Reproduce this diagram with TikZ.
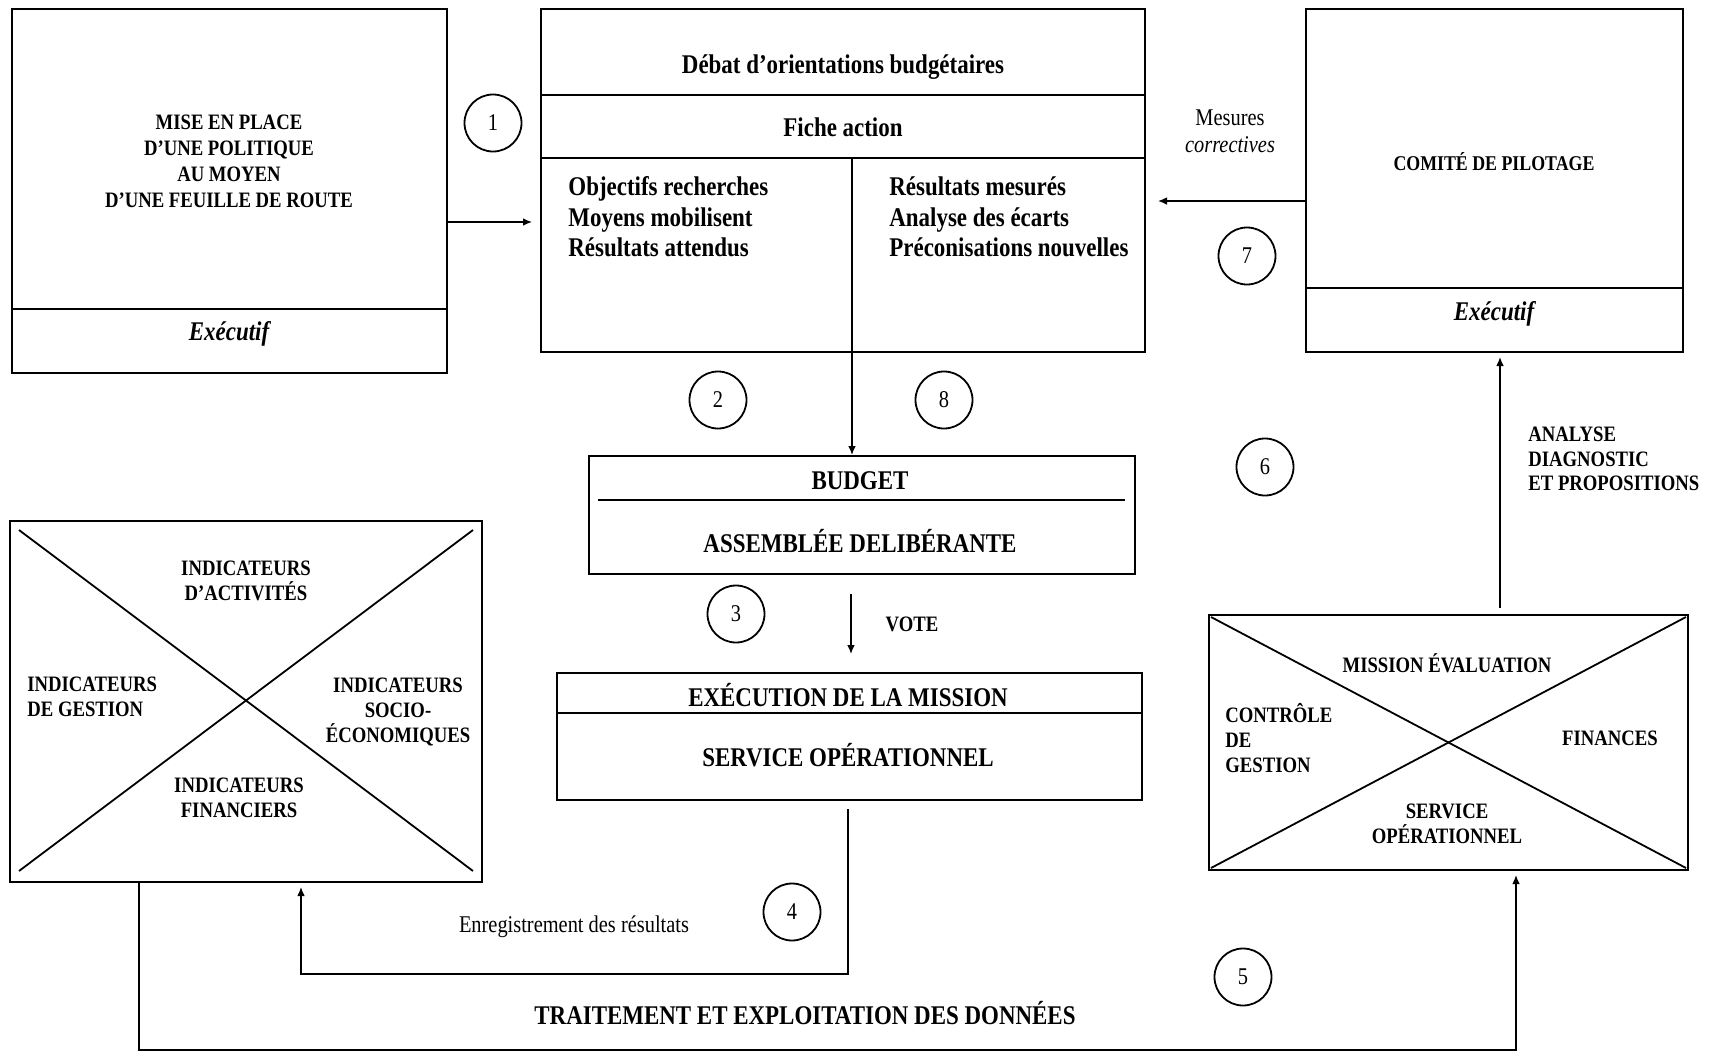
\documentclass[tikz,border=0pt]{standalone}
\usepackage{fontspec}
\setmainfont{Liberation Serif}[FakeStretch=0.85]
\usetikzlibrary{arrows.meta,calc}
\begin{document}
\begin{tikzpicture}[x=0.5pt,y=-0.5pt,
  box/.style={draw, line width=1pt, rectangle, anchor=north west, inner sep=0pt},
  div/.style={line width=1pt},
  conn/.style={line width=0.7pt},
  arr/.style={conn, -{Latex[length=4.5pt,width=3.8pt]}},
  num/.style={draw, circle, line width=0.9pt, minimum size=28.5pt, inner sep=0pt, font=\fontsize{12}{14}\selectfont},
  big/.style={font=\fontsize{13.5}{15.3}\selectfont\bfseries, align=center, inner sep=0pt},
  bigl/.style={font=\fontsize{13.5}{15.3}\selectfont\bfseries, align=left, inner sep=0pt, anchor=west},
  sm/.style={font=\fontsize{11}{12.5}\selectfont\bfseries, align=center, inner sep=0pt},
  sml/.style={font=\fontsize{11}{12.5}\selectfont\bfseries, align=left, inner sep=0pt, anchor=west},
  exe/.style={font=\fontsize{13.5}{15}\selectfont\bfseries\itshape, inner sep=0pt},
  reg/.style={font=\fontsize{12}{14}\selectfont, align=center, inner sep=0pt},
]
\useasboundingbox (0,0) rectangle (1710,1051);

% ---------- boxes ----------
\node[box, minimum width=217.5pt, minimum height=182pt] (A) at (11,8) {};
\node[box, minimum width=302pt, minimum height=171.5pt] (B) at (540,8) {};
\node[box, minimum width=188.5pt, minimum height=171.5pt] (C) at (1305,8) {};
\node[box, minimum width=273pt, minimum height=59pt] (BUD) at (588,455) {};
\node[box, minimum width=292.5pt, minimum height=63.5pt] (EXE) at (556,672) {};
\node[box, minimum width=236pt, minimum height=180.5pt] (LX) at (9,520) {};
\node[box, minimum width=239.5pt, minimum height=127.5pt] (RX) at (1208,614) {};

% dividers
\draw[div] (A.west |- 0,309) -- (A.east |- 0,309);
\draw[div] (B.west |- 0,95) -- (B.east |- 0,95);
\draw[div] (B.west |- 0,158) -- (B.east |- 0,158);
\draw[div] (C.west |- 0,288) -- (C.east |- 0,288);
\draw[div] (598,500) -- (1125,500);
\draw[div] (EXE.west |- 0,713) -- (EXE.east |- 0,713);

% crosses
\draw[conn, line width=0.9pt] ([shift={(5pt,-5pt)}]LX.north west) -- ([shift={(-5pt,6pt)}]LX.south east);
\draw[conn, line width=0.9pt] ([shift={(5pt,6pt)}]LX.south west) -- ([shift={(-5pt,-5pt)}]LX.north east);
\draw[conn, line width=0.9pt] ([shift={(1.5pt,-1.5pt)}]RX.north west) -- ([shift={(-1.5pt,1.5pt)}]RX.south east);
\draw[conn, line width=0.9pt] ([shift={(1.5pt,1.5pt)}]RX.south west) -- ([shift={(-1.5pt,-1.5pt)}]RX.north east);

% ---------- texts ----------
\node[sm, font=\fontsize{11}{13}\selectfont\bfseries] (tA) at (229,161) {MISE EN PLACE\\D’UNE POLITIQUE\\AU MOYEN\\D’UNE FEUILLE DE ROUTE};
\node[exe] (eA) at (229,334) {Exécutif};

\node[big] (tB1) at (843,67) {Débat d’orientations budgétaires};
\node[big] (tB2) at (843,127) {Fiche action};
\node[bigl] (tB3) at (568,217) {Objectifs recherches\\Moyens mobilisent\\Résultats attendus};
\node[bigl] (tB4) at (889,217) {Résultats mesurés\\Analyse des écarts\\Préconisations nouvelles};

\node[sm, font=\fontsize{10.5}{12.5}\selectfont\bfseries] (tC) at (1494,162) {COMITÉ DE PILOTAGE};
\node[exe] (eC) at (1494,314) {Exécutif};

\node[reg] (mes) at (1230,118) {Mesures};
\node[reg, font=\fontsize{12}{14}\selectfont\itshape] (cor) at (1230,145) {correctives};

\node[big] (tBud1) at (860,481) {BUDGET};
\node[big] (tBud2) at (860,541) {ASSEMBLÉE DELIBÉRANTE};

\node[sm] (vote) at (912,624) {VOTE};

\node[big] (tE1) at (848,695) {EXÉCUTION DE LA MISSION};
\node[big] (tE2) at (848,755) {SERVICE OPÉRATIONNEL};

\node[sm] (li1) at (246,581) {INDICATEURS\\D’ACTIVITÉS};
\node[sml] (li2) at (27,697) {INDICATEURS\\DE GESTION};
\node[sm] (li3) at (398,712) {INDICATEURS\\SOCIO-\\ÉCONOMIQUES};
\node[sm] (li4) at (239,798) {INDICATEURS\\FINANCIERS};

\node[sm] (ri1) at (1447,663) {MISSION ÉVALUATION};
\node[sml] (ri2) at (1225,738) {CONTRÔLE\\DE\\GESTION};
\node[sm] (ri3) at (1610,738) {FINANCES};
\node[sm] (ri4) at (1447,824) {SERVICE\\OPÉRATIONNEL};

\node[sml, font=\fontsize{11}{12.3}\selectfont\bfseries] (ana) at (1528,459) {ANALYSE\\DIAGNOSTIC\\ET PROPOSITIONS};

\node[reg, font=\fontsize{12}{14}\selectfont] (enr) at (574,927) {Enregistrement des résultats};
\node[big, font=\fontsize{13.5}{16}\selectfont\bfseries] (trt) at (805,1013) {TRAITEMENT ET EXPLOITATION DES DONNÉES};

% ---------- numbered circles ----------
\node[num] (n1) at (493,123) {1};
\node[num] (n2) at (718,400) {2};
\node[num] (n3) at (736,614) {3};
\node[num] (n4) at (792,912) {4};
\node[num] (n5) at (1243,977) {5};
\node[num] (n6) at (1265,467) {6};
\node[num] (n7) at (1247,256) {7};
\node[num] (n8) at (944,400) {8};

% ---------- connectors ----------
\coordinate (y1) at (0,222);
\draw[arr, shorten >=4pt] (A.east |- y1) -- (B.west |- y1);

\coordinate (bdiv) at (852,158);
\draw[arr] (bdiv) -- (bdiv |- BUD.north);

\coordinate (xv) at (851,0);
\draw[arr, shorten <=9.5pt, shorten >=9pt] (BUD.south -| xv) -- (EXE.north -| xv);

\coordinate (c4) at (848,974);
\coordinate (c4b) at (301,974);
\draw[arr, shorten <=4pt, shorten >=2pt] (EXE.south -| c4) -- (c4) -- (c4b) -- (c4b |- LX.south);

\coordinate (c5a) at (139,1050);
\coordinate (c5b) at (1516,1050);
\draw[arr, shorten >=2pt] (LX.south -| c5a) -- (c5a) -- (c5b) -- (c5b |- RX.south);

\coordinate (c6) at (1500,0);
\draw[arr, shorten <=3pt, shorten >=2pt] (RX.north -| c6) -- (C.south -| c6);

\coordinate (y7) at (0,201);
\draw[arr, shorten >=6pt] (C.west |- y7) -- (B.east |- y7);

\end{tikzpicture}
\end{document}
